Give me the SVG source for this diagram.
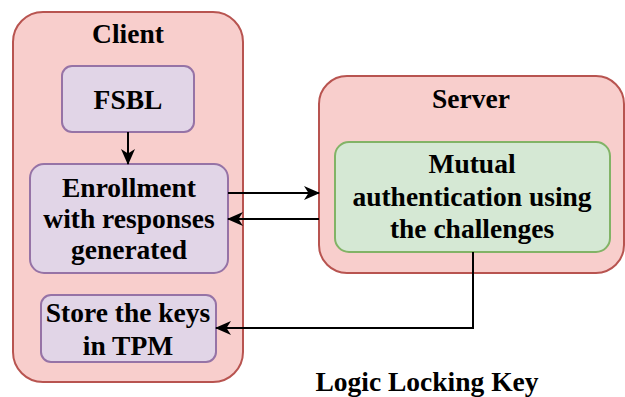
<svg xmlns="http://www.w3.org/2000/svg" width="625" height="397" viewBox="0 0 625 397">
<style>
text{font-family:"Liberation Serif","Times New Roman",serif;font-weight:bold;font-size:27.5px;fill:#000;text-anchor:middle}
.cont{fill:#f8cecc;stroke:#b85450;stroke-width:2}
.pur{fill:#e1d5e7;stroke:#9673a6;stroke-width:2}
.grn{fill:#d5e8d4;stroke:#82b366;stroke-width:2}
.edge{fill:none;stroke:#000;stroke-width:2}
.head{fill:#000;stroke:none}
</style>
<defs>
<marker id="arr" viewBox="0 0 16 16" refX="15" refY="8" markerWidth="16" markerHeight="16" markerUnits="userSpaceOnUse" orient="auto">
<path d="M0,1 L16,8 L0,15 L4.5,8 Z" class="head"/>
</marker>
</defs>
<g id="client">
<rect class="cont" x="13" y="12" width="230" height="370" rx="30"/>
<text x="128" y="43">Client</text>
</g>
<g id="server">
<rect class="cont" x="319" y="76" width="305" height="197" rx="28"/>
<text x="471" y="108">Server</text>
</g>
<g id="fsbl">
<rect class="pur" x="62" y="66" width="132" height="66" rx="10"/>
<text x="128" y="109">FSBL</text>
</g>
<g id="enroll">
<rect class="pur" x="30" y="164" width="198" height="109" rx="14"/>
<text x="129" y="197">Enrollment</text>
<text x="129" y="228">with responses</text>
<text x="129" y="259">generated</text>
</g>
<g id="store">
<rect class="pur" x="41" y="295" width="175" height="67" rx="10"/>
<text x="128" y="322">Store the keys</text>
<text x="128" y="355">in TPM</text>
</g>
<g id="mutual">
<rect class="grn" x="335" y="142" width="275" height="110" rx="14"/>
<text x="472" y="173">Mutual</text>
<text x="472" y="206">authentication using</text>
<text x="472" y="238">the challenges</text>
</g>
<g id="label">
<text x="427" y="391">Logic Locking Key</text>
</g>
<g id="connectors">
<path class="edge" d="M128,132 L128,164" marker-end="url(#arr)"/>
<path class="edge" d="M228,193 L319,193" marker-end="url(#arr)"/>
<path class="edge" d="M319,219 L228,219" marker-end="url(#arr)"/>
<path class="edge" d="M473,252 L473,328 L216,328" marker-end="url(#arr)"/>
</g>
</svg>
